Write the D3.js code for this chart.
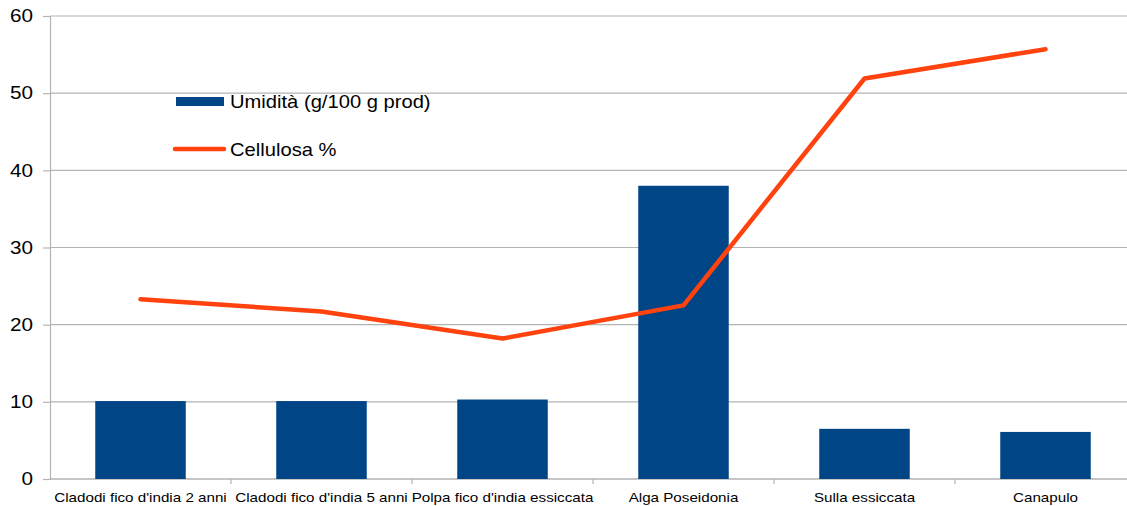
<!DOCTYPE html>
<html>
<head>
<meta charset="utf-8">
<script src="https://cdn.jsdelivr.net/npm/d3@7"></script>
<style>
  html, body { margin: 0; padding: 0; background: #fff; }
  svg { display: block; font-family: "Liberation Sans", Arial, sans-serif; }
</style>
</head>
<body>
<svg id="chart" width="1127" height="506"></svg>
<script>
const categories = [
  "Cladodi fico d'india 2 anni",
  "Cladodi fico d'india 5 anni",
  "Polpa fico d'india essiccata",
  "Alga Poseidonia",
  "Sulla essiccata",
  "Canapulo"
];
const umidita = [10.1, 10.1, 10.3, 38.0, 6.5, 6.1];
const cellulosa = [23.3, 21.7, 18.2, 22.5, 51.9, 55.7];
const yTicks = [0, 10, 20, 30, 40, 50, 60];
const seriesNames = ["Umidità (g/100 g prod)", "Cellulosa %"];

(function () {
const svg = d3.select("#chart");
const plotLeft = 50, plotRight = 1136, plotTop = 16, plotBottom = 479;
const stretch = 1.15;       // slightly wide lettering
const legendStretch = 1.12;

const x = d3.scaleBand().domain(categories).range([plotLeft, plotRight]).paddingInner(0.5).paddingOuter(0.25);
const xPoint = c => x(c) + x.bandwidth() / 2;
const y = d3.scaleLinear().domain([0, 60]).range([plotBottom, plotTop]);

// horizontal gridlines
svg.append("g")
  .selectAll("line")
  .data(yTicks)
  .join("line")
  .attr("x1", plotLeft).attr("x2", 1127)
  .attr("y1", d => y(d)).attr("y2", d => y(d))
  .attr("stroke", "#b3b3b3").attr("stroke-width", 1.2);

// y axis
const yAxis = svg.append("g")
  .attr("transform", `translate(${plotLeft},0)`)
  .call(d3.axisLeft(y).tickValues(yTicks).tickSize(7));
yAxis.select(".domain").attr("stroke", "#b3b3b3").attr("stroke-width", 1.2);
yAxis.selectAll(".tick line").attr("stroke", "#b3b3b3").attr("stroke-width", 1.2);
yAxis.selectAll(".tick text")
  .attr("font-size", 18).attr("fill", "#000")
  .attr("font-family", "Liberation Sans, Arial, sans-serif")
  .attr("x", -17 / stretch)
  .attr("transform", `scale(${stretch},1)`);

// x axis (ticks at category boundaries)
const xAxisG = svg.append("g").attr("transform", `translate(0,${plotBottom})`);
xAxisG.append("line").attr("x1", plotLeft).attr("x2", 1127).attr("y1", 0).attr("y2", 0)
  .attr("stroke", "#b3b3b3").attr("stroke-width", 1.2);
const step = x.step();
const boundaries = categories.map(c => xPoint(c) + step / 2);
xAxisG.selectAll("line.bt")
  .data(boundaries)
  .join("line").attr("class", "bt")
  .attr("x1", d => d).attr("x2", d => d).attr("y1", 0).attr("y2", 5)
  .attr("stroke", "#b3b3b3").attr("stroke-width", 1.2);
xAxisG.selectAll("text")
  .data(categories)
  .join("text")
  .attr("transform", d => `translate(${xPoint(d)},23) scale(${stretch},1)`)
  .attr("text-anchor", "middle")
  .attr("font-size", 13.2).attr("fill", "#000")
  .text(d => d);

// bars
svg.append("g")
  .selectAll("rect")
  .data(categories)
  .join("rect")
  .attr("x", d => x(d))
  .attr("width", x.bandwidth())
  .attr("y", (d, i) => y(umidita[i]))
  .attr("height", (d, i) => y(0) - y(umidita[i]))
  .attr("fill", "#004586");

// line
const line = d3.line().x((d, i) => xPoint(categories[i])).y(d => y(d));
svg.append("path")
  .datum(cellulosa)
  .attr("d", line)
  .attr("fill", "none")
  .attr("stroke", "#ff420e")
  .attr("stroke-width", 4.5)
  .attr("stroke-linejoin", "round")
  .attr("stroke-linecap", "round");

// legend
const legend = svg.append("g");
legend.append("rect").attr("x", 176).attr("y", 97).attr("width", 48).attr("height", 9).attr("fill", "#004586");
legend.append("text").attr("transform", `translate(230,108) scale(${legendStretch},1)`)
  .attr("font-size", 18).attr("fill", "#000").text(seriesNames[0]);
legend.append("line").attr("x1", 175).attr("x2", 224).attr("y1", 149).attr("y2", 149)
  .attr("stroke", "#ff420e").attr("stroke-width", 4.5).attr("stroke-linecap", "round");
legend.append("text").attr("transform", `translate(230,156) scale(${legendStretch},1)`)
  .attr("font-size", 18).attr("fill", "#000").text(seriesNames[1]);
})();
</script>
</body>
</html>
